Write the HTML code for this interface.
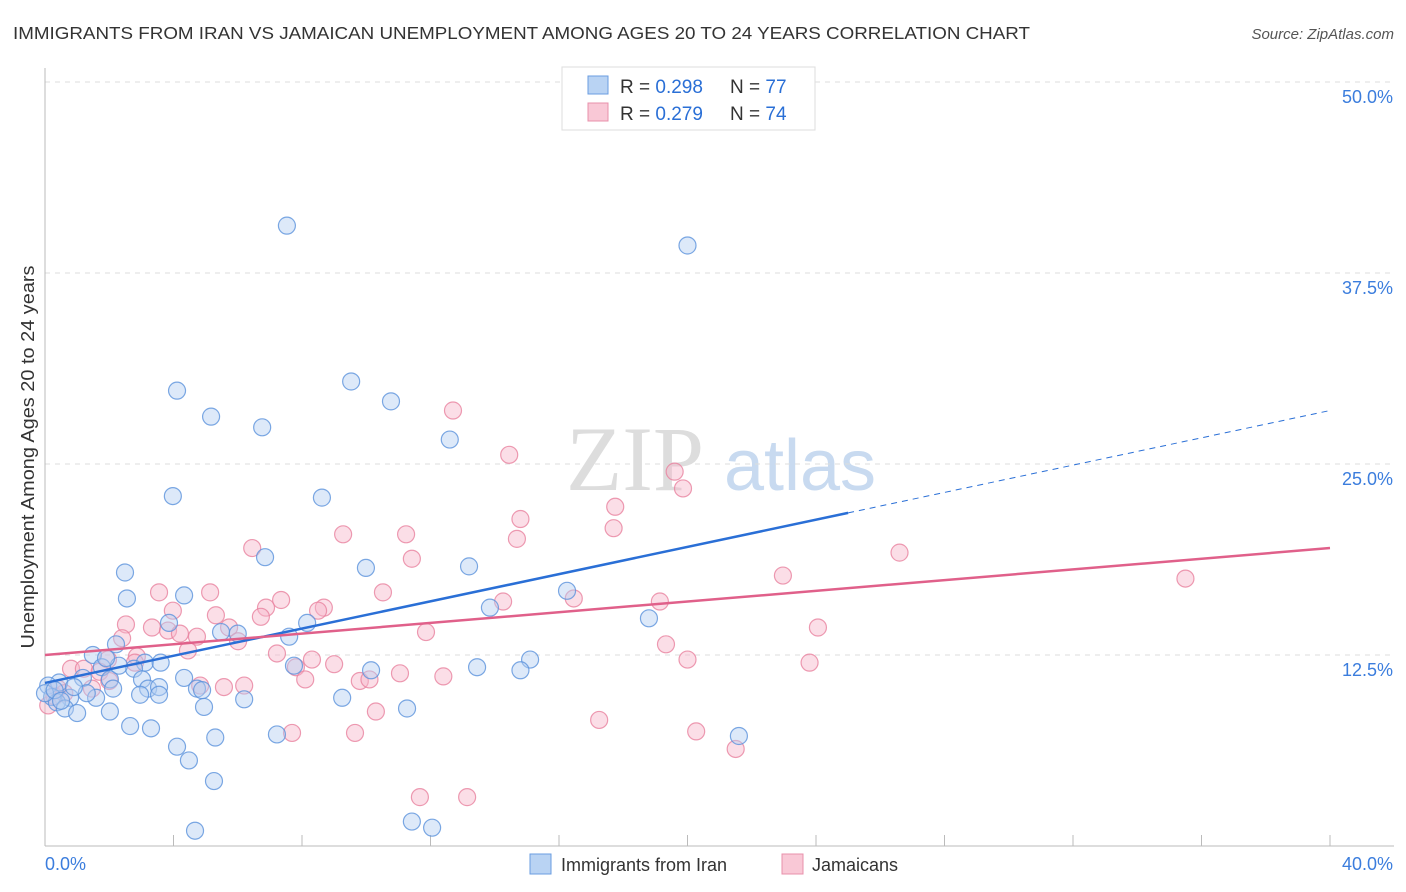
<!DOCTYPE html>
<html><head><meta charset="utf-8"><style>
body{margin:0;background:#fff;font-family:"Liberation Sans",sans-serif}
svg{display:block}
</style></head><body>
<svg id="chart" width="1406" height="892" xmlns="http://www.w3.org/2000/svg">
<text x="13" y="39" font-size="17.5" fill="#333" textLength="1017" lengthAdjust="spacingAndGlyphs">IMMIGRANTS FROM IRAN VS JAMAICAN UNEMPLOYMENT AMONG AGES 20 TO 24 YEARS CORRELATION CHART</text>
<text x="1394" y="39" font-size="15" fill="#555" text-anchor="end" font-style="italic">Source: ZipAtlas.com</text>
<g>
<text x="635" y="490" font-size="92" fill="#ddd" font-family="Liberation Serif" text-anchor="middle">ZIP</text>
<text x="800" y="490" font-size="72" fill="#c8daf0" text-anchor="middle">atlas</text>
</g>
<g id="grid"></g><g id="axes"></g><g id="pts"></g><g id="trend"></g>
<text transform="translate(34,457) rotate(-90)" font-size="18" fill="#333" text-anchor="middle" textLength="383" lengthAdjust="spacingAndGlyphs">Unemployment Among Ages 20 to 24 years</text>
<g>
<rect x="562" y="67" width="253" height="63" fill="#fff" stroke="#ddd"/>
<rect x="588" y="76" width="20" height="18" fill="#b9d3f3" stroke="#6a9de0"/>
<rect x="588" y="103" width="20" height="18" fill="#f9c8d6" stroke="#e890ab"/>
<text x="620" y="93" font-size="19" fill="#333">R = <tspan fill="#2a6fd6">0.298</tspan></text>
<text x="730" y="93" font-size="19" fill="#333">N = <tspan fill="#2a6fd6">77</tspan></text>
<text x="620" y="120" font-size="19" fill="#333">R = <tspan fill="#2a6fd6">0.279</tspan></text>
<text x="730" y="120" font-size="19" fill="#333">N = <tspan fill="#2a6fd6">74</tspan></text>
</g>
<g>
<rect x="530" y="854" width="21" height="20" fill="#b9d3f3" stroke="#6a9de0"/>
<text x="561" y="871" font-size="18" fill="#333">Immigrants from Iran</text>
<rect x="782" y="854" width="21" height="20" fill="#f9c8d6" stroke="#e890ab"/>
<text x="812" y="871" font-size="18" fill="#333">Jamaicans</text>
</g>
</svg>
<script>
const yTicks=[12.5,25.0,37.5,50.0];
const yTickLabels=["12.5%","25.0%","37.5%","50.0%"];
const xTickVals=[0,4,8,12,16,20,24,28,32,36,40];
const xEndLabels=["0.0%","40.0%"];
const iranX=[7.53,20.0,9.53,10.77,4.11,5.17,6.76,12.6,3.98,8.62,6.85,2.49,9.99,13.2,2.55,4.33,16.25,13.85,18.8,8.16,3.86,5.48,7.6,2.21,1.49,3.11,1.77,2.77,7.75,15.1,13.45,14.8,10.15,1.18,2.02,3.02,4.33,0.44,0.1,2.12,3.21,3.55,4.73,4.89,0.22,0.78,0.37,1.59,2.96,3.55,6.2,9.25,0.62,1.0,2.02,4.95,11.27,2.65,3.3,5.3,7.22,21.6,4.11,4.48,5.26,4.67,11.42,12.05,0.0,0.3,2.3,1.3,0.5,3.6,6.0,1.9,0.9];
const iranY=[40.6,39.3,30.4,29.1,29.8,28.1,27.4,26.6,22.9,22.8,18.9,17.9,18.2,18.3,16.2,16.4,16.7,15.6,14.9,14.6,14.6,14.0,13.7,13.2,12.5,12.0,11.7,11.6,11.8,12.2,11.7,11.5,11.5,11.0,10.9,10.9,11.0,10.7,10.5,10.3,10.3,10.4,10.3,10.2,9.75,9.7,9.4,9.7,9.9,9.9,9.6,9.7,9.0,8.7,8.8,9.1,9.0,7.85,7.7,7.1,7.3,7.2,6.5,5.6,4.25,1.0,1.6,1.2,10.0,10.2,11.8,10.0,9.5,12.0,13.9,12.3,10.4];
const jamX=[12.7,14.45,19.6,19.86,17.75,14.8,17.7,9.28,11.24,14.69,6.45,26.6,11.42,22.97,35.5,3.55,5.14,10.52,16.46,7.35,14.26,19.14,6.88,8.68,8.5,3.98,5.32,6.72,2.52,3.33,5.73,24.06,3.83,4.2,4.73,11.86,2.4,6.01,19.33,4.45,7.22,2.86,1.96,20.0,8.31,9.0,23.8,0.81,1.21,7.81,11.05,8.1,12.4,9.8,10.1,0.4,4.83,5.57,6.2,1.46,10.3,17.25,7.69,9.65,20.27,21.5,11.67,13.14,0.1,0.3,1.7,2.8,0.6,2.0];
const jamY=[28.5,25.6,24.5,23.4,22.2,21.4,20.8,20.4,20.4,20.1,19.5,19.2,18.8,17.7,17.5,16.6,16.6,16.6,16.2,16.1,16.0,16.0,15.6,15.6,15.4,15.4,15.1,15.0,14.5,14.3,14.3,14.3,14.1,13.9,13.7,14.0,13.6,13.4,13.2,12.8,12.6,12.4,12.2,12.2,12.2,11.9,12.0,11.6,11.6,11.7,11.3,10.9,11.1,10.8,10.9,10.3,10.5,10.4,10.5,10.3,8.8,8.25,7.4,7.4,7.5,6.35,3.2,3.2,9.2,9.8,11.4,12.0,10.0,10.8];
const iranTrend=[[0,10.67],[25.0,21.8],[40,28.5]];
const jamTrend=[[0,12.5],[40,19.5]];
const NS="http://www.w3.org/2000/svg";
const X=v=>45+v*(1285/40), Y=v=>846-v*15.28;
function mk(t,a,p){const e=document.createElementNS(NS,t);for(const k in a)e.setAttribute(k,a[k]);document.getElementById(p).appendChild(e);return e;}
yTicks.forEach((t,i)=>{
 const g=mk('line',{x1:45,x2:1394,y1:Y(t),y2:Y(t),stroke:'#ddd','stroke-dasharray':'5,5'},'grid');
 
 
 const l=mk('text',{x:1393,y:Y(t)+21,'font-size':18,fill:'#3b7ddd','text-anchor':'end'},'axes');
 l.textContent=yTickLabels[i];
 
 
});
const ax=mk('line',{x1:45,x2:1394,y1:846,y2:846,stroke:'#bbb'},'axes');


const ay=mk('line',{x1:45,x2:45,y1:68,y2:846,stroke:'#bbb'},'axes');


xTickVals.forEach(v=>{const t=mk('line',{x1:X(v),x2:X(v),y1:835,y2:846,stroke:'#bbb'},'axes');
 
 });
[[0,'start'],[40,'end']].forEach((p,i)=>{const t=mk('text',{x:i?1393:45,y:870,'font-size':18,fill:'#3b7ddd','text-anchor':p[1]},'axes');t.textContent=xEndLabels[i];
 
 });
function pts(xs,ys,fill,stroke,name){xs.forEach((x,i)=>{const c=mk('circle',{cx:X(x),cy:Y(ys[i]),r:8.5,fill:fill,'fill-opacity':0.45,stroke:stroke,'stroke-opacity':0.8,'stroke-width':1.2},'pts');
 
 });}
pts(jamX,jamY,'#f6b6c9','#e8829f','jamaicans-point');
pts(iranX,iranY,'#b3cff2','#5b92dc','iran-point');
const l1=mk('line',{x1:X(iranTrend[0][0]),y1:Y(iranTrend[0][1]),x2:X(iranTrend[1][0]),y2:Y(iranTrend[1][1]),stroke:'#2a6fd6','stroke-width':2.5},'trend');


const l2=mk('line',{x1:X(iranTrend[1][0]),y1:Y(iranTrend[1][1]),x2:X(iranTrend[2][0]),y2:Y(iranTrend[2][1]),stroke:'#2a6fd6','stroke-width':1,'stroke-dasharray':'6,5'},'trend');


const l3=mk('line',{x1:X(jamTrend[0][0]),y1:Y(jamTrend[0][1]),x2:X(jamTrend[1][0]),y2:Y(jamTrend[1][1]),stroke:'#e0608a','stroke-width':2.5},'trend');


</script>
</body></html>
